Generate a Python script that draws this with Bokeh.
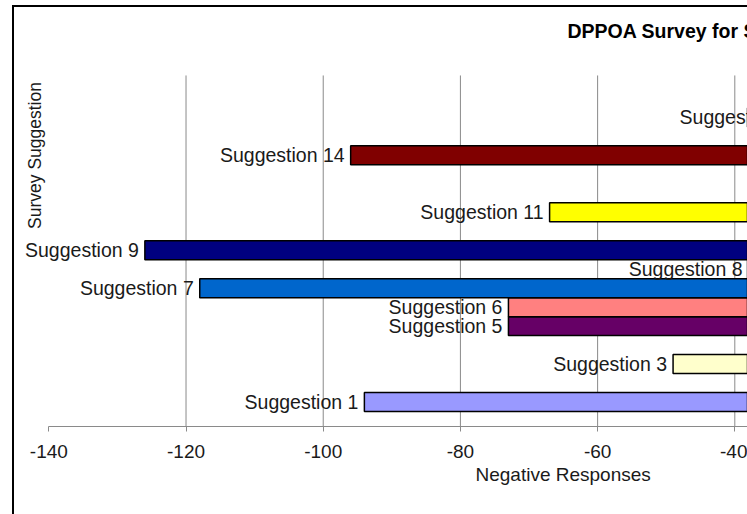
import math
from bokeh.plotting import figure
from bokeh.models import (Range1d, FixedTicker, ColumnDataSource, LabelSet, Label,
                          Title, InlineStyleSheet, NumeralTickFormatter)
from bokeh.core.properties import value
from bokeh.embed import file_html
from bokeh.resources import INLINE

# ---- data ----
suggestions = ["Suggestion 1", "Suggestion 3", "Suggestion 5", "Suggestion 6",
               "Suggestion 7", "Suggestion 8", "Suggestion 9", "Suggestion 11",
               "Suggestion 14", "Suggestion 16"]
rows = [1, 3, 5, 6, 7, 8, 9, 11, 14, 16]
negative_responses = [-94, -49, -73, -73, -118, -38, -126, -67, -96, -29]
bar_colors = ["#9999FF", "#FFFFCC", "#660066", "#FF8080", "#0066CC",
              "#CCCCFF", "#000080", "#FFFF00", "#800000", "#0000FF"]
x_ticks = [-140, -120, -100, -80, -60, -40]
grid_ticks = [-120, -100, -80, -60, -40]

title_text = "DPPOA Survey for Suggestions"
x_title = "Negative Responses"
y_title = "Survey Suggestion"

# ---- layout constants ----
FONT = "Liberation Sans"
TEXT = "#1a1a1a"
GRID = "#8a8a8a"
X_START, X_END = -145.15, -38.15      # visible value window
AXIS_START = -140                      # the axis line starts at -140
Y_START, Y_END = -0.29, 22.16          # row window (frame spans the top area too)
PLOT_TOP = 18.21                       # top of the plotting area (grid top)

source = ColumnDataSource(dict(y=rows, left=negative_responses,
                               right=[0] * len(rows), color=bar_colors,
                               label=suggestions))

p = figure(width=747, height=514, output_backend="svg", toolbar_location=None,
           x_range=Range1d(X_START, X_END), y_range=Range1d(Y_START, Y_END),
           y_axis_location=None,
           min_border_left=13, min_border_right=0,
           min_border_top=0, min_border_bottom=88)

p.outline_line_color = None
p.border_fill_alpha = 0
p.background_fill_alpha = 0
p.stylesheets = [InlineStyleSheet(css=(
    ":host { background: "
    "linear-gradient(#000,#000) 12px 5px / 2px 100% no-repeat, "
    "linear-gradient(#000,#000) 12px 5px / 100% 2px no-repeat, #fff; }"))]

# vertical grid lines limited to the plotting area
p.segment(x0=grid_ticks, y0=[Y_START] * len(grid_ticks),
          x1=grid_ticks, y1=[PLOT_TOP] * len(grid_ticks),
          line_color=GRID, line_width=1)
p.xgrid.visible = False
p.ygrid.visible = False

p.hbar(y="y", left="left", right="right", height=1.0, source=source,
       fill_color="color", line_color="#000000", line_width=1.5)

labels = LabelSet(x="left", y="y", text="label", source=source,
                  x_offset=-6, text_align="right", text_baseline="middle",
                  text_font=value(FONT), text_font_size=value("19.5px"),
                  text_color=TEXT)
p.add_layout(labels)

# x axis
xa = p.xaxis[0]
xa.ticker = FixedTicker(ticks=x_ticks)
xa.bounds = (AXIS_START, X_END)
xa.formatter = NumeralTickFormatter(format="0")
xa.axis_line_color = GRID
xa.axis_line_width = 1
xa.major_tick_line_color = GRID
xa.major_tick_out = 5
xa.major_tick_in = 0
xa.minor_tick_line_color = None
xa.major_label_standoff = 13
xa.major_label_text_font = FONT
xa.major_label_text_font_size = "19px"
xa.major_label_text_color = TEXT

# x axis title (below the axis)
p.add_layout(Title(text=x_title, align="left", offset=462, standoff=7,
                   vertical_align="top", text_font=FONT,
                   text_font_size="19px", text_font_style="normal",
                   text_color=TEXT), "below")

# chart title and y title (inside the frame, screen px from frame bottom-left)
p.add_layout(Label(x=554, y=396, x_units="screen", y_units="screen",
                   text=title_text, text_font=FONT, text_font_size="19.5px",
                   text_font_style="bold", text_color="#000000",
                   text_align="left", text_baseline="middle"))
p.add_layout(Label(x=21, y=271, x_units="screen", y_units="screen",
                   text=y_title, text_font=FONT, text_font_size="17.5px",
                   text_color=TEXT, angle=math.pi / 2,
                   text_align="center", text_baseline="middle"))

open("out.html", "w").write(file_html(p, INLINE))
